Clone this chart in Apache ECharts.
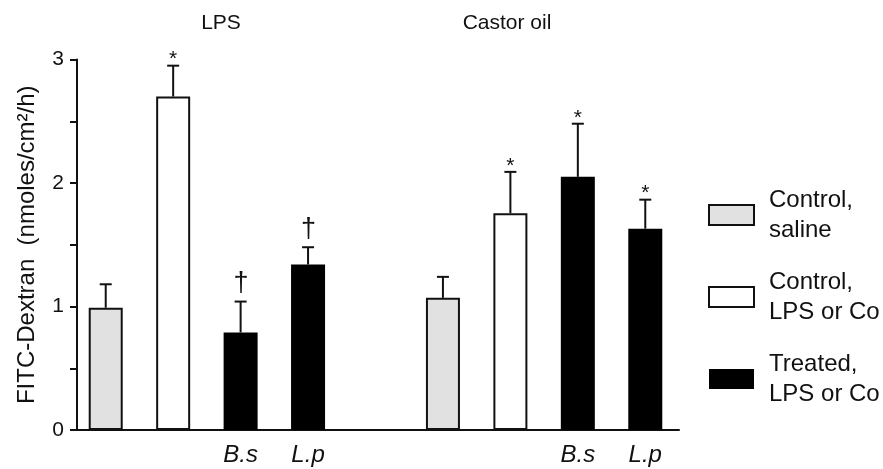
<!DOCTYPE html>
<html><head><meta charset="utf-8">
<script src="https://cdn.jsdelivr.net/npm/echarts@6/dist/echarts.min.js"></script>
<style>html,body{margin:0;padding:0;background:#fff}#c{width:883px;height:469px}</style>
</head><body><div id="c"></div>
<script>
// ---- data ----
const groupTitles = ['LPS', 'Castor oil'];
const categories = ['', '', 'B.s', 'L.p', '', '', '', 'B.s', 'L.p'];
const seriesNames = ['Control,\nsaline', 'Control,\nLPS or Co', 'Treated,\nLPS or Co'];
const barGroup = [0, 1, 2, 2, null, 0, 1, 2, 2];
const means = [0.99, 2.70, 0.79, 1.34, null, 1.07, 1.755, 2.05, 1.63];
const sems  = [0.19, 0.25, 0.25, 0.14, null, 0.17, 0.335, 0.43, 0.235];
const marks = ['', '*', '\u2020', '\u2020', '', '', '*', '*', '*'];
const yTickLabels = [0, 1, 2, 3];

// ---- styles ----
const FONT = '"Liberation Sans", Arial, sans-serif';
const INK = '#111';
const fills = ['#e1e1e1', '#ffffff', '#000000'];

const chart = echarts.init(document.getElementById('c'), null, {renderer: 'canvas'});

const barSeries = seriesNames.map((name, g) => ({
  name: name,
  type: 'bar',
  barWidth: 34,
  barGap: '-100%',
  itemStyle: {color: fills[g], borderColor: INK, borderWidth: g === 2 ? 0 : 2},
  data: means.map((m, i) => (barGroup[i] === g ? m : '-')),
  z: 2
}));

const errData = [];
means.forEach((m, i) => { if (m != null) errData.push([i, m, sems[i]]); });

const errSeries = {
  type: 'custom',
  data: errData,
  z: 3,
  silent: true,
  renderItem: function (params, api) {
    const i = api.value(0), m = api.value(1), e = api.value(2);
    const p0 = api.coord([i, m]);
    const p1 = api.coord([i, m + e]);
    const mk = marks[i];
    const children = [
      {type: 'line', shape: {x1: p0[0], y1: p0[1], x2: p1[0], y2: p1[1]}, style: {stroke: INK, lineWidth: 2}},
      {type: 'line', shape: {x1: p1[0] - 6, y1: p1[1], x2: p1[0] + 6, y2: p1[1]}, style: {stroke: INK, lineWidth: 2}}
    ];
    if (mk) {
      const isStar = mk === '*';
      children.push({
        type: 'text',
        style: {
          text: mk, x: p1[0] + (isStar ? 0 : 0.5), y: p1[1] - (isStar ? 6 : 18),
          align: 'center', verticalAlign: 'middle',
          fontSize: isStar ? 21 : 27, fontFamily: FONT, fill: INK
        }
      });
    }
    return {type: 'group', children: children};
  }
};

const titlePos = [[221, 23.5], [507, 23.5]];

chart.setOption({
  animation: false,
  backgroundColor: '#fff',
  textStyle: {fontFamily: FONT, color: INK},
  grid: {left: 72, right: 204, top: 59.5, bottom: 39, outerBoundsMode: 'none', containLabel: false},
  graphic: groupTitles.map((t, k) => ({
    type: 'text', x: titlePos[k][0], y: titlePos[k][1],
    style: {text: t, align: 'center', verticalAlign: 'middle', fontSize: 21, fontFamily: FONT, fill: INK}
  })),
  legend: {
    orient: 'vertical',
    left: 708, top: 185,
    padding: 0,
    itemWidth: 45, itemHeight: 20, itemGap: 22,
    icon: 'rect',
    selectedMode: false,
    data: seriesNames,
    textStyle: {fontSize: 24, lineHeight: 30, fontFamily: FONT, color: INK, padding: [0, 0, 0, 10]}
  },
  xAxis: {
    type: 'category',
    data: categories,
    axisLine: {lineStyle: {color: INK, width: 2}},
    axisTick: {show: false},
    axisLabel: {interval: 0, fontSize: 24, fontStyle: 'italic', fontFamily: FONT, color: INK, margin: 13},
    splitLine: {show: false}
  },
  yAxis: {
    type: 'value',
    min: 0, max: 3, interval: 0.5,
    offset: -5,
    name: 'FITC-Dextran  (nmoles/cm\u00b2/h)',
    nameLocation: 'middle',
    nameGap: 38,
    nameTextStyle: {fontSize: 24, fontFamily: FONT, color: INK},
    axisLine: {show: true, lineStyle: {color: INK, width: 2}},
    axisTick: {show: true, length: 7, lineStyle: {color: INK, width: 2}},
    axisLabel: {
      fontSize: 21, fontFamily: FONT, color: INK, margin: 13,
      formatter: v => (yTickLabels.indexOf(v) >= 0 ? String(v) : '')
    },
    splitLine: {show: false}
  },
  series: barSeries.concat([errSeries])
});
</script>
</body></html>
